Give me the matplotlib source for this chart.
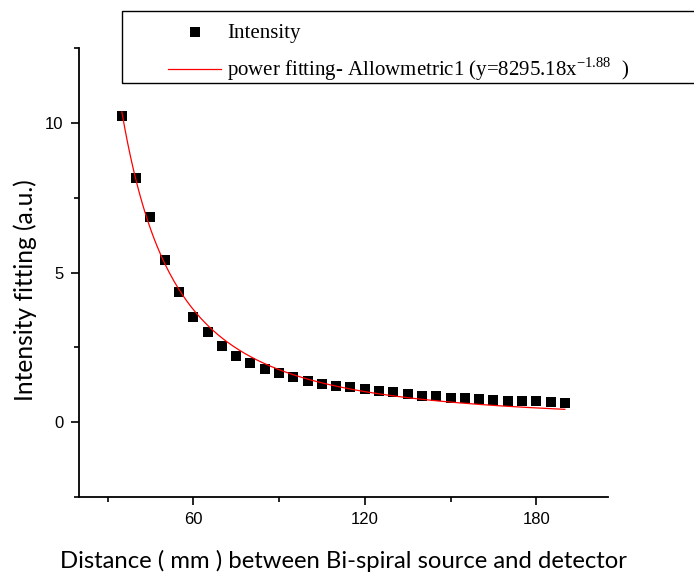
import numpy as np
import matplotlib
matplotlib.use('Agg')
from matplotlib import pyplot as plt
from matplotlib.patches import Rectangle

distance = [35, 40, 45, 50, 55, 60, 65, 70, 75, 80, 85, 90, 95, 100, 105, 110,
            115, 120, 125, 130, 135, 140, 145, 150, 155, 160, 165, 170, 175,
            180, 185, 190]
intensity = [10.23, 8.15, 6.87, 5.42, 4.34, 3.53, 3.00, 2.55, 2.22, 1.98, 1.79,
             1.63, 1.52, 1.37, 1.29, 1.22, 1.17, 1.10, 1.05, 1.00, 0.93, 0.89,
             0.87, 0.82, 0.80, 0.78, 0.75, 0.72, 0.71, 0.70, 0.68, 0.63]

# allometric fit parameters given in the legend
fit_a = 8295.18
fit_b = -1.88

x_ticks = [60, 120, 180]
y_ticks = [0, 5, 10]

plt.rcParams['mathtext.fontset'] = 'custom'
plt.rcParams['mathtext.rm'] = 'Liberation Serif'

W, H = 694, 579
fig = plt.figure(figsize=(W/100, H/100), dpi=100)
ax = fig.add_axes([79/W, 1 - 497/H, (607.7 - 79)/W, (497 - 48.3)/H])

xf = np.linspace(distance[0], distance[-1], 300)
ax.scatter(distance, intensity, marker='s', s=48, color='black', zorder=3,
           linewidths=0, label='Intensity')
ax.plot(xf, fit_a * xf**fit_b, color='red', linewidth=0.9, zorder=4,
        label=r'power fitting- Allowmetric1 (y=8295.18x$^{\mathregular{-1.88}}$  )')

ax.set_xlim(20, 205)
ax.set_ylim(-2.5, 12.5)
ax.set_xticks(x_ticks)
ax.set_xticks([30, 90, 150], minor=True)
ax.set_yticks(y_ticks)
ax.set_yticks([-2.5, 2.5, 7.5, 12.5], minor=True)
ax.spines['top'].set_visible(False)
ax.spines['right'].set_visible(False)
for s in ['left', 'bottom']:
    ax.spines[s].set_linewidth(1.3)
ax.tick_params(which='major', direction='out', length=6, width=1.2,
               labelsize=12, pad=5)
ax.tick_params(which='minor', direction='out', length=3.5, width=1.2)
for lab in ax.get_xticklabels() + ax.get_yticklabels():
    lab.set_family('Liberation Sans')

ax.set_xlabel('Distance ( mm ) between Bi-spiral source and detector',
              family='Lato', fontsize=17.2, labelpad=16)
ax.set_ylabel('Intensity fitting (a.u.)', family='Lato', fontsize=17.7)
ax.yaxis.set_label_coords(-0.079, 0.461)

# legend frame runs off the right edge like in the original
fig.patches.append(Rectangle((122/W, 1 - 83/H), (720 - 122)/W, (83 - 11)/H,
                             transform=fig.transFigure, fill=False,
                             edgecolor='black', linewidth=1.0))
fig.legend(loc='upper left', bbox_to_anchor=(168/W, 1 - 23/H), frameon=False,
           prop={'family': 'Liberation Serif', 'size': 15},
           handlelength=2.55, borderpad=0, labelspacing=0.62,
           handletextpad=0.3, borderaxespad=0)

fig.savefig('out.png', dpi=100)
